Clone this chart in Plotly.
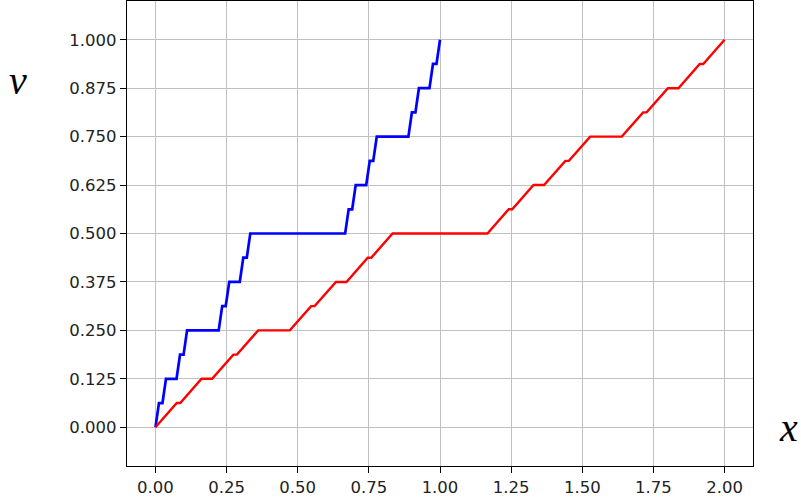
import plotly.graph_objects as go

# Blue staircase (Cantor-like) points
blue_x = [0, 0.0123, 0.0247, 0.0370, 0.0741, 0.0864, 0.0988, 0.1111, 0.2222, 0.2346,
          0.2469, 0.2593, 0.2963, 0.3086, 0.3210, 0.3333, 0.6667, 0.6790, 0.6914, 0.7037,
          0.7407, 0.7531, 0.7654, 0.7778, 0.8889, 0.9012, 0.9136, 0.9259, 0.9630, 0.9753,
          0.9877, 1.0]
blue_v = [0, 0.0625, 0.0625, 0.125, 0.125, 0.1875, 0.1875, 0.25, 0.25, 0.3125,
          0.3125, 0.375, 0.375, 0.4375, 0.4375, 0.5, 0.5, 0.5625, 0.5625, 0.625,
          0.625, 0.6875, 0.6875, 0.75, 0.75, 0.8125, 0.8125, 0.875, 0.875, 0.9375,
          0.9375, 1.0]
# Red curve points
red_x = [0, 0.0748, 0.0872, 0.1620, 0.1991, 0.2739, 0.2863, 0.3611, 0.4722, 0.5471,
         0.5594, 0.6343, 0.6713, 0.7461, 0.7585, 0.8333, 1.1667, 1.2415, 1.2539, 1.3287,
         1.3657, 1.4406, 1.4529, 1.5278, 1.6389, 1.7137, 1.7261, 1.8009, 1.8380, 1.9128,
         1.9252, 2.0]
red_v = [0, 0.0625, 0.0625, 0.125, 0.125, 0.1875, 0.1875, 0.25, 0.25, 0.3125,
         0.3125, 0.375, 0.375, 0.4375, 0.4375, 0.5, 0.5, 0.5625, 0.5625, 0.625,
         0.625, 0.6875, 0.6875, 0.75, 0.75, 0.8125, 0.8125, 0.875, 0.875, 0.9375,
         0.9375, 1.0]

x_ticks = [0, 0.25, 0.5, 0.75, 1.0, 1.25, 1.5, 1.75, 2.0]
x_tick_labels = ["0.00", "0.25", "0.50", "0.75", "1.00", "1.25", "1.50", "1.75", "2.00"]
y_ticks = [0, 0.125, 0.25, 0.375, 0.5, 0.625, 0.75, 0.875, 1.0]
y_tick_labels = ["0.000", "0.125", "0.250", "0.375", "0.500", "0.625", "0.750", "0.875", "1.000"]

fig = go.Figure()
fig.add_trace(go.Scatter(x=blue_x, y=blue_v, mode="lines",
                         line=dict(color="#0000ff", width=2.7), showlegend=False))
fig.add_trace(go.Scatter(x=red_x, y=red_v, mode="lines",
                         line=dict(color="#ff0000", width=2.4), showlegend=False))

axis_common = dict(showgrid=True, gridcolor="#c0c0c0", gridwidth=1.4,
                   showline=True, linecolor="black", linewidth=1.3, mirror=True,
                   ticks="outside", ticklen=6, tickwidth=1.3, tickcolor="black", zeroline=False,
                   tickfont=dict(family="DejaVu Sans", size=16.5, color="#222222"))
fig.update_xaxes(range=[-0.1, 2.1], tickvals=x_ticks, ticktext=x_tick_labels, **axis_common)
fig.update_yaxes(range=[-0.1, 1.1], tickvals=y_ticks, ticktext=y_tick_labels, **axis_common)

fig.add_annotation(text="<i>v</i>", xref="paper", yref="paper", x=-0.174, y=0.828,
                   xanchor="center", yanchor="middle",
                   showarrow=False, font=dict(family="Liberation Serif", size=40, color="black"))
fig.add_annotation(text="<i>x</i>", xref="paper", yref="paper", x=1.057, y=0.082,
                   xanchor="center", yanchor="middle",
                   showarrow=False, font=dict(family="Liberation Serif", size=40, color="black"))

fig.update_layout(width=801, height=499, margin=dict(l=127, r=48, t=1, b=33),
                  plot_bgcolor="white", paper_bgcolor="white")
fig.write_html("out.html", config={"displayModeBar": False},
               post_script="document.body.style.margin='0';")
